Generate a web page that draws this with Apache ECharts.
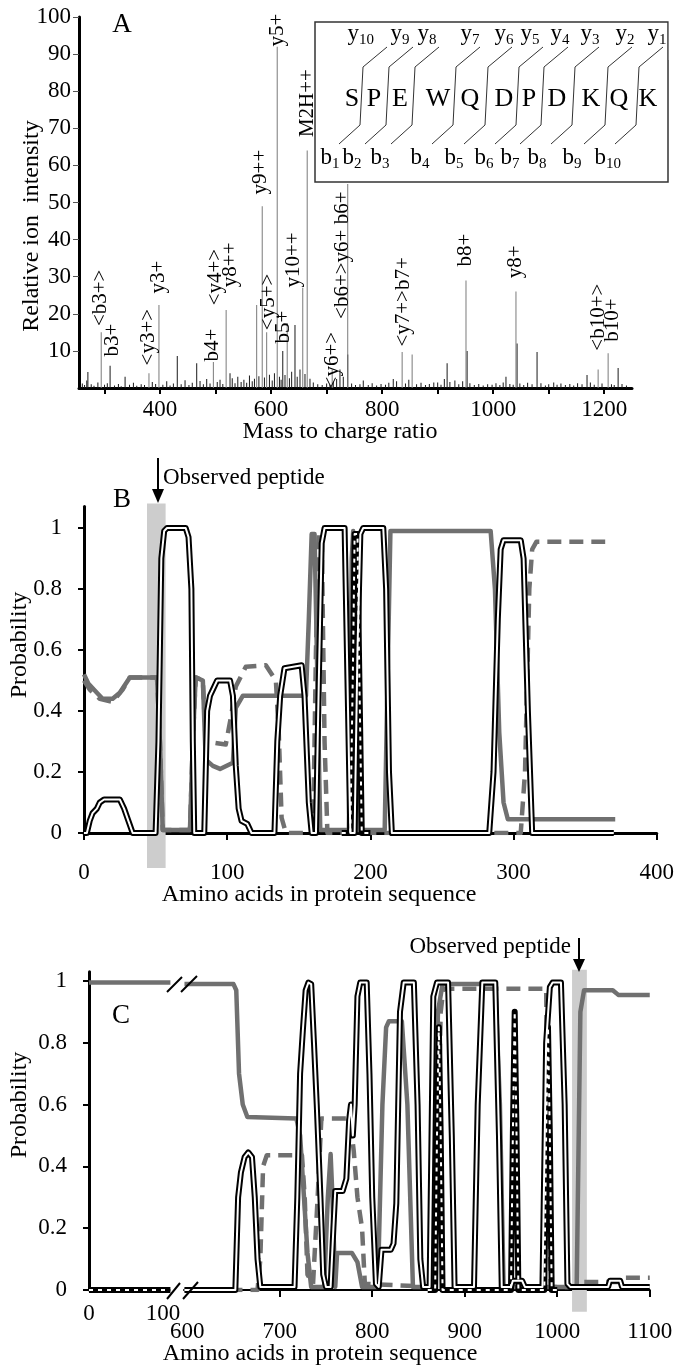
<!DOCTYPE html>
<html>
<head>
<meta charset="utf-8">
<script src="https://cdn.jsdelivr.net/npm/echarts@6/dist/echarts.min.js"></script>
<style>
html, body { margin: 0; padding: 0; background: #fff; }
#main { width: 677px; height: 1366px; }
</style>
</head>
<body>
<div id="main"></div>
<script>
var FONT = "'Liberation Serif', 'DejaVu Serif', serif";

// ---- panel A : MS/MS spectrum ----
var labeledPeaks = [[294,15],[380,4],[398,22.4],[496,7],[519,21],[574,22.4],[584,49],[592,15],[611,92],
  [629,17.5],[657,27],[665,64],[710,5],[738,55],[836,9.7],[854,9],[951,29],[1041,26],[1189,5],[1207,9.4]];
var noisePeaks = [[260,1.2],[264,0.8],[268,2.0],[270,4.3],[276,1.0],[281,0.6],[288,1.5],[300,0.9],[305,1.3],
  [310,6],[318,0.7],[325,1.1],[330,0.5],[337,3],[345,0.9],[352,1.4],[358,0.6],[366,1.0],[372,0.8],[386,1.6],
  [392,1.1],[405,0.9],[412,1.8],[418,0.7],[424,1.2],[431,8.6],[438,1.0],[445,2.1],[452,0.8],[458,1.4],
  [466,6.7],[472,1.9],[478,1.0],[484,2.4],[490,1.2],[503,1.6],[508,2.2],[513,1.1],[526,4],[530,2.6],
  [535,1.3],[540,3.0],[546,1.6],[551,2.2],[556,1.4],[561,3.4],[566,1.8],[570,2.5],[578,3.2],[588,2.8],
  [597,3.6],[602,2.0],[606,4.0],[615,3.0],[618,2.2],[621,10],[625,3.5],[633,2.6],[637,4.4],[643,17],
  [647,3.0],[652,5.0],[661,3.8],[670,2.5],[676,1.5],[684,1.0],[692,0.8],[700,1.2],[706,0.9],[712,1.6],
  [718,2.4],[724,5],[730,3.0],[738,9],[745,1.2],[752,0.8],[760,1.0],[766,2],[775,0.8],[782,1.3],[790,0.7],
  [798,1.1],[806,0.9],[812,1.4],[820,2.4],[826,1.8],[842,1.2],[848,2.2],[862,1.0],[870,1.4],[878,0.8],
  [885,1.1],[893,1.5],[900,1.5],[906,0.9],[912,2.4],[917,6.7],[922,1.6],[931,2],[938,1.0],[945,1.8],
  [953,10],[958,1.3],[966,0.8],[974,1.1],[982,0.7],[990,1.0],[998,0.9],[1005,1.3],[1012,0.8],[1018,1.5],
  [1023,3],[1030,1.1],[1036,0.9],[1043,12],[1048,1.2],[1055,0.8],[1062,1.4],[1070,1.0],[1079,9.7],
  [1086,1.3],[1094,0.7],[1100,1.0],[1109,1.5],[1115,0.9],[1122,1.2],[1130,0.8],[1138,1.1],[1145,0.7],
  [1152,1.3],[1160,1.0],[1169,3.5],[1175,1.5],[1182,0.9],[1196,1.2],[1213,1.0],[1218,0.8],[1225,5.4],
  [1232,1.1],[1240,0.7]];
var ionNames = ['b3+','<b3+>','<y3+>','y3+','b4+','<y4+>','y8++','y9++','<y5+>','b5+','y10++','y5+',
  'M2H++','<y6+>','<b6+>y6+ b6+','<y7+>b7+','b8+','y8+','<b10+>','b10+'];
var ionAt = [[315,12.9],[292,24.3],[380,13.7],[398,29.9],[494,11.6],[499,29.9],[526,33.2],[580,58.2],
  [596,23.2],[622,16.4],[640,34.5],[611,96.5],[665,76.8],[710,7.5],[728,35.8],[838,23.2],[950,37.2],
  [1040,34],[1189,19.1],[1214,18.3]];
var mzTicks = [300,400,500,600,700,800,900,1000,1100,1200];
var mzLabels = [400,600,800,1000,1200];
var intensityTicks = [10,20,30,40,50,60,70,80,90,100];

// inset: peptide sequence and fragment ions
var sequence = ['S','P','E','W','Q','D','P','D','K','Q','K'];
var yIons = ['10','9','8','7','6','5','4','3','2','1'];
var bIons = ['1','2','3','4','5','6','7','8','9','10'];

// ---- panel B ----
var probTicks = [0,0.2,0.4,0.6,0.8,1];
var bBlack = [[0,0],[2,0],[4,0.04],[6,0.065],[9,0.08],[11,0.1],[14,0.11],[25,0.11],[28,0.08],[31,0.04],[34,0],
  [50,0],[52,0.3],[54,0.9],[56,0.99],[58,1],[71,1],[73,0.97],[75,0.8],[76,0.3],[77,0],[84,0],[86,0.4],
  [88,0.45],[90,0.47],[93,0.5],[102,0.5],[104,0.45],[106,0.22],[108,0.08],[110,0.04],[114,0.03],[117,0],
  [133,0],[135,0.3],[137,0.45],[140,0.54],[152,0.55],[154,0.45],[157,0.1],[159,0],[162,0],[164,0.5],
  [166,0.95],[168,1],[182,1],[184,0.5],[186,0],[189,0],[191,0.6],[193,0.98],[195,1],[209,1],[211,0.8],
  [213,0.2],[215,0],[283,0],[286,0.2],[289,0.7],[291,0.93],[293,0.96],[305,0.96],[307,0.9],[310,0.4],
  [313,0],[370,0]];
var bBlackDash = [[180,0],[186,0],[188,0.6],[189,0.98],[191,0.98],[192,0.6],[194,0],[200,0]];
var bGrey = [[0,0.52],[3,0.49],[9,0.46],[13,0.44],[20,0.44],[25,0.46],[32,0.51],[51,0.51],[53,0.3],[55,0.01],
  [74,0.01],[76,0.3],[78,0.51],[83,0.5],[85,0.24],[90,0.22],[95,0.21],[104,0.23],[106,0.41],[111,0.45],
  [155,0.45],[157,0.7],[159,0.98],[161,0.98],[163,0.5],[165,0.01],[185,0.01],[187,0.9],[188,0.99],
  [189,0.5],[191,0.01],[210,0.01],[212,0.5],[214,0.99],[284,0.99],[287,0.8],[290,0.33],[293,0.1],
  [296,0.045],[371,0.045]];
var bGreyDash = [[0,0.5],[4,0.47],[11,0.44],[20,0.43],[27,0.47],[32,0.51],[51,0.51],[53,0.3],[55,0.01],
  [74,0.01],[76,0.3],[78,0.51],[83,0.5],[85,0.3],[99,0.29],[103,0.39],[106,0.48],[113,0.545],[127,0.55],
  [134,0.5],[136,0.33],[138,0.05],[141,0],[160,0],[162,0.6],[164,0.98],[166,0.98],[168,0.3],[170,0],
  [305,0],[308,0.2],[311,0.8],[313,0.93],[316,0.955],[364,0.955]];
var bPeptide = [[44,57,1.08,-0.115]];

// ---- panel C (broken axis) ----
var cLeftGrey = [[0,0.995],[110,0.995]];
var cLeftBlack = [[0,0],[110,0]];
var cBlack = [[597,0],[652,0],[655,0.3],[658,0.38],[662,0.43],[666,0.445],[670,0.43],[673,0.3],[676,0.1],
  [679,0.01],[716,0.01],[719,0.3],[722,0.7],[725,0.84],[728,0.97],[731,0.995],[734,0.99],[737,0.8],
  [740,0.6],[744,0.3],[747,0.05],[750,0.01],[755,0.01],[758,0.2],[760,0.32],[768,0.32],[772,0.36],
  [775,0.55],[777,0.6],[779,0.5],[781,0.6],[784,0.95],[787,0.995],[794,0.995],[797,0.7],[800,0.3],
  [804,0.02],[807,0.01],[810,0.13],[820,0.13],[823,0.15],[826,0.28],[830,0.9],[834,0.995],[845,0.995],
  [849,0.6],[852,0.1],[855,0.01],[862,0.01],[866,0.95],[870,0.995],[882,0.995],[886,0.5],[889,0.01],
  [910,0.01],[914,0.6],[919,0.995],[933,0.995],[937,0.5],[940,0.01],[950,0.01],[952,0.03],[962,0.03],
  [965,0.01],[984,0.01],[988,0.8],[992,0.98],[995,0.995],[1004,0.995],[1008,0.6],[1011,0.02],[1014,0.01],
  [1055,0.01],[1057,0.03],[1068,0.03],[1070,0.01],[1100,0.01]];
var cBlackDash = [[860,0],[868,0],[870,0.5],[872,0.85],[874,0.5],[876,0],[950,0],[952,0.5],[954,0.9],
  [956,0.5],[958,0],[986,0],[988,0.5],[990,0.85],[992,0.5],[994,0],[1000,0]];
var cGrey = [[597,0.99],[650,0.99],[653,0.97],[656,0.7],[660,0.6],[665,0.56],[718,0.555],[722,0.5],
  [730,0.12],[734,0.01],[748,0.01],[752,0.3],[755,0.44],[757,0.3],[760,0.01],[762,0.12],[778,0.12],
  [784,0.09],[789,0.01],[806,0.01],[811,0.6],[815,0.85],[818,0.87],[832,0.87],[838,0.6],[844,0.01],
  [866,0.01],[871,0.9],[876,0.99],[933,0.99],[938,0.6],[942,0.01],[1021,0.01],[1025,0.9],[1029,0.97],
  [1060,0.97],[1066,0.955],[1100,0.955]];
var cGreyDash = [[597,0],[676,0],[679,0.1],[682,0.4],[686,0.436],[724,0.436],[727,0.3],[730,0.05],
  [736,0.02],[741,0.3],[745,0.555],[776,0.555],[780,0.45],[784,0.3],[789,0.2],[792,0.02],[868,0.01],
  [871,0.5],[874,0.9],[877,0.975],[988,0.975],[990,0.5],[993,0.01],[1020,0.01],[1024,0.026],[1068,0.026],
  [1071,0.04],[1100,0.04]];
var cPeptide = [[1016,1032,1.036,-0.07]];
var cTicks = [700,800,900,1000,1100];
var cLabels = [600,700,800,900,1000,1100];

var GREY = '#707070';
var SHADE = '#cdcdcd';

function greyLine(data, xi, dashed) {
  return {
    type: 'line', xAxisIndex: xi, yAxisIndex: xi, data: data, symbol: 'none', z: 3,
    lineStyle: { color: GREY, width: 4.5, type: dashed ? [14, 8] : 'solid', join: 'round' },
    silent: true, animation: false
  };
}
// hollow black line = wide black stroke with thin white stroke on top
function hollowLine(data, xi, dashedCore) {
  return [
    { type: 'line', xAxisIndex: xi, yAxisIndex: xi, data: data, symbol: 'none', z: 4,
      lineStyle: { color: '#000', width: 6, join: 'round' }, animation: false },
    { type: 'line', xAxisIndex: xi, yAxisIndex: xi, data: data, symbol: 'none', z: 5,
      lineStyle: { color: '#fff', width: 2, type: dashedCore ? [4, 5] : 'solid', join: 'round' }, animation: false }
  ];
}
function peptideBox(data, xi) {
  return {
    type: 'custom', xAxisIndex: xi, yAxisIndex: xi, data: data, clip: false, z: 1, animation: false,
    renderItem: function (params, api) {
      var p1 = api.coord([api.value(0), api.value(2)]);
      var p2 = api.coord([api.value(1), api.value(3)]);
      return { type: 'rect', shape: { x: p1[0], y: p1[1], width: p2[0] - p1[0], height: p2[1] - p1[1] },
        style: { fill: SHADE } };
    }
  };
}

var plainNum = function (v) { return String(v); };
var txtBase = { color: '#000', fontFamily: FONT, fontSize: 23, formatter: plainNum };

// ---- graphics: titles, letters, inset, arrows, breaks ----
var g = [];
function text(x, y, s, size, opts) {
  var o = { type: 'text', x: x, y: y, z: 60, silent: true,
    style: { text: s, fontFamily: FONT, fontSize: size, fill: '#000', align: 'center', verticalAlign: 'middle' } };
  if (opts) {
    if (opts.rotation) o.rotation = opts.rotation;
    if (opts.align) o.style.align = opts.align;
  }
  g.push(o);
}
function line(points, w, color, z) {
  g.push({ type: 'polyline', z: z || 60, silent: true, shape: { points: points },
    style: { stroke: color || '#000', lineWidth: w, fill: null } });
}

text(122, 25, 'A', 27);
text(122, 500, 'B', 27);
text(121, 1016, 'C', 27);
text(32, 226, 'Relative ion  intensity', 24, { rotation: Math.PI / 2 });
text(340, 432, 'Mass to charge ratio', 24);
text(20, 645, 'Probability', 24, { rotation: Math.PI / 2 });
text(319, 895, 'Amino acids in protein sequence', 24);
text(20, 1105, 'Probability', 24, { rotation: Math.PI / 2 });
text(320, 1354, 'Amino acids in protein sequence', 24);

// observed peptide markers
text(163, 478, 'Observed peptide', 23, { align: 'left' });
line([[158, 458], [158, 492]], 2);
g.push({ type: 'polygon', z: 60, shape: { points: [[152, 489], [164, 489], [158, 503]] }, style: { fill: '#000' } });
text(571, 947, 'Observed peptide', 23, { align: 'right' });
line([[579, 938], [579, 961]], 2);
g.push({ type: 'polygon', z: 60, shape: { points: [[573, 959], [585, 959], [579, 972]] }, style: { fill: '#000' } });

// axis break marks in panel C
g.push({ type: 'rect', z: 58, shape: { x: 171, y: 970, width: 12, height: 24 }, style: { fill: '#fff' } });
g.push({ type: 'rect', z: 58, shape: { x: 171, y: 1280, width: 12, height: 20 }, style: { fill: '#fff' } });
line([[167, 992], [182, 977]], 2);
line([[181, 992], [197, 976]], 2);
line([[167, 1299], [180, 1283]], 2);
line([[183, 1299], [198, 1282]], 2);

// inset with sequence and fragmentation sites
var letterX = [352, 374, 400, 438, 470, 504, 529, 557, 591, 619, 648];
var cutX = [361, 387, 413, 454, 486, 517, 542, 573, 606, 637];
var yIonX = [363, 403, 430, 473, 507, 533, 563, 593, 628, 660];
var bIonX = [333, 355, 383, 423, 457, 487, 513, 540, 575, 610];
g.push({ type: 'rect', z: 55, shape: { x: 315, y: 22, width: 353, height: 160 },
  style: { fill: '#fff', stroke: '#333', lineWidth: 1.5 } });
sequence.forEach(function (s, i) { text(letterX[i], 99, s, 26); });
cutX.forEach(function (x) {
  line([[x + 26, 47], [x + 2, 67], [x - 1, 125], [x - 22, 144]], 1, '#333');
});
function ionLabel(cx, cy, ion, sub) {
  var off = sub.length > 1 ? 4 : 1;
  g.push({ type: 'text', z: 60, x: cx - off, y: cy, style: { text: ion, fontFamily: FONT, fontSize: 23,
    fill: '#000', align: 'right', verticalAlign: 'middle' } });
  g.push({ type: 'text', z: 60, x: cx - off, y: cy + 6, style: { text: sub, fontFamily: FONT, fontSize: 15,
    fill: '#000', align: 'left', verticalAlign: 'middle' } });
}
yIons.forEach(function (s, i) { ionLabel(yIonX[i], 34, 'y', s); });
bIons.forEach(function (s, i) { ionLabel(bIonX[i], 158, 'b', s); });
// right edge of the inset hides the last subscript partly
g.push({ type: 'rect', z: 61, shape: { x: 668.8, y: 20, width: 10, height: 40 }, style: { fill: '#fff' } });

var option = {
  backgroundColor: '#fff',
  animation: false,
  textStyle: { fontFamily: FONT, color: '#000' },
  grid: [
    { left: 79, top: 17, width: 553, height: 371 },
    { left: 84, top: 506.6, width: 574, height: 326.4 },
    { left: 89, top: 971.7, width: 81.4, height: 318.3 },
    { left: 184, top: 971.7, width: 465.75, height: 318.3 }
  ],
  xAxis: [
    { gridIndex: 0, type: 'value', min: 254, max: 1250, splitLine: { show: false },
      axisLine: { lineStyle: { color: '#000', width: 3 } },
      axisTick: { customValues: mzTicks, length: 6, lineStyle: { color: '#000', width: 2 } },
      axisLabel: Object.assign({ customValues: mzLabels, margin: 10 }, txtBase) },
    { gridIndex: 1, type: 'value', min: 0, max: 400, interval: 100, splitLine: { show: false },
      axisLine: { lineStyle: { color: '#000', width: 3 } },
      axisTick: { length: 7, lineStyle: { color: '#000', width: 2 } },
      axisLabel: Object.assign({ margin: 28 }, txtBase) },
    { gridIndex: 2, type: 'value', min: 0, max: 110, splitLine: { show: false },
      axisLine: { lineStyle: { color: '#000', width: 2 } },
      axisTick: { show: false },
      axisLabel: Object.assign({ customValues: [0, 100], margin: 12 }, txtBase) },
    { gridIndex: 3, type: 'value', min: 596.5, max: 1100, splitLine: { show: false },
      axisLine: { lineStyle: { color: '#000', width: 2 } },
      axisTick: { customValues: cTicks, length: 7, lineStyle: { color: '#000', width: 2 } },
      axisLabel: Object.assign({ customValues: cLabels, margin: 30 }, txtBase) }
  ],
  yAxis: [
    { gridIndex: 0, type: 'value', min: 0, max: 100, splitLine: { show: false },
      axisLine: { lineStyle: { color: '#000', width: 3 } },
      axisTick: { customValues: intensityTicks, length: 6, lineStyle: { color: '#555', width: 1 } },
      axisLabel: Object.assign({ customValues: intensityTicks, margin: 8 }, txtBase) },
    { gridIndex: 1, type: 'value', min: 0, max: 1.07, splitLine: { show: false },
      axisLine: { lineStyle: { color: '#000', width: 3 } },
      axisTick: { customValues: probTicks, length: 6, lineStyle: { color: '#000', width: 2 } },
      axisLabel: Object.assign({ customValues: probTicks, margin: 22 }, txtBase) },
    { gridIndex: 2, type: 'value', min: 0, max: 1.03, splitLine: { show: false },
      axisLine: { lineStyle: { color: '#000', width: 3 } },
      axisTick: { customValues: probTicks, length: 6, lineStyle: { color: '#000', width: 2 } },
      axisLabel: Object.assign({ customValues: probTicks, margin: 22 }, txtBase) },
    { gridIndex: 3, type: 'value', min: 0, max: 1.03, show: false, splitLine: { show: false } }
  ],
  graphic: { elements: g },
  series: [
    { type: 'bar', xAxisIndex: 0, yAxisIndex: 0, data: noisePeaks, barWidth: 1, barGap: '-100%',
      itemStyle: { color: '#1a1a1a' }, z: 2, silent: true },
    { type: 'bar', xAxisIndex: 0, yAxisIndex: 0, data: labeledPeaks, barWidth: 1, barGap: '-100%',
      itemStyle: { color: '#7a7a7a' }, z: 3, silent: true },
    // rotated ion annotations placed through the spectrum's axes
    { type: 'custom', xAxisIndex: 0, yAxisIndex: 0, data: ionAt, clip: false, z: 6, silent: true,
      renderItem: function (params, api) {
        var p = api.coord([api.value(0), api.value(1)]);
        return { type: 'text', x: p[0], y: p[1], rotation: Math.PI / 2,
          style: { text: ionNames[params.dataIndex], fontFamily: FONT, fontSize: 21, fill: '#000',
            align: 'center', verticalAlign: 'middle' } };
      } },

    peptideBox(bPeptide, 1),
    greyLine(bGrey, 1, false),
    greyLine(bGreyDash, 1, true)
  ].concat(hollowLine(bBlack, 1, false), hollowLine(bBlackDash, 1, true), [
    peptideBox(cPeptide, 3),
    greyLine(cLeftGrey, 2, false),
    greyLine(cGrey, 3, false),
    greyLine(cGreyDash, 3, true)
  ], hollowLine(cLeftBlack, 2, true), hollowLine(cBlack, 3, false), hollowLine(cBlackDash, 3, true))
};

var chart = echarts.init(document.getElementById('main'), null, { renderer: 'canvas' });
chart.setOption(option);
</script>
</body>
</html>
